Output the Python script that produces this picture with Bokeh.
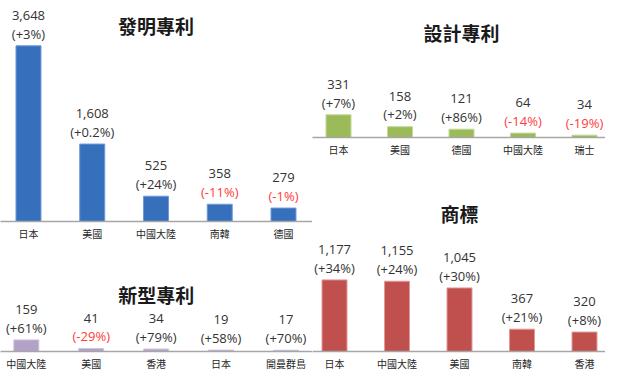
from bokeh.plotting import figure
from bokeh.models import Range1d, FixedTicker, Label, ColumnDataSource
from bokeh.layouts import row, column
from bokeh.embed import file_html
from bokeh.resources import INLINE

# ---- data ----
inv_title = "發明專利"
inv_cats = ["日本", "美國", "中國大陸", "南韓", "德國"]
inv_vals = [3648, 1608, 525, 358, 279]
inv_pcts = ["+3%", "+0.2%", "+24%", "-11%", "-1%"]

des_title = "設計專利"
des_cats = ["日本", "美國", "德國", "中國大陸", "瑞士"]
des_vals = [331, 158, 121, 64, 34]
des_pcts = ["+7%", "+2%", "+86%", "-14%", "-19%"]

uti_title = "新型專利"
uti_cats = ["中國大陸", "美國", "香港", "日本", "開曼群島"]
uti_vals = [159, 41, 34, 19, 17]
uti_pcts = ["+61%", "-29%", "+79%", "+58%", "+70%"]

tm_title = "商標"
tm_cats = ["日本", "中國大陸", "美國", "南韓", "香港"]
tm_vals = [1177, 1155, 1045, 367, 320]
tm_pcts = ["+34%", "+24%", "+30%", "+21%", "+8%"]

TEXT = "#333333"
NEG = "#FF3B3B"
CJK = "Noto Sans CJK TC"
NUM = "Open Sans"


def panel(title, cats, vals, pcts, color, edge, width, height, bottom,
          x0, px_unit, px_per_val, title_dy):
    frame_h = height - bottom
    y_end = frame_h / px_per_val
    n = len(cats)
    p = figure(width=width, height=height, output_backend="svg",
               toolbar_location=None, x_range=Range1d(x0, x0 + width / px_unit),
               y_range=Range1d(0, y_end), y_axis_location=None,
               min_border_left=0, min_border_right=0, min_border_top=0,
               min_border_bottom=bottom)
    p.outline_line_color = None
    p.xgrid.visible = False
    p.ygrid.visible = False
    p.background_fill_color = None
    p.border_fill_color = None
    xs = list(range(n))
    src = ColumnDataSource(dict(
        x=xs, v=vals,
        vt=[f"{v:,}" for v in vals],
        pt=[f"({s})" for s in pcts],
        pc=[NEG if s.startswith("-") else TEXT for s in pcts],
    ))
    p.vbar(x="x", top="v", width=25 / px_unit, bottom=0, source=src,
           fill_color=color, line_color=edge, line_width=1)
    p.text(x="x", y="v", text="vt", source=src, y_offset=-30.5,
           text_align="center", text_baseline="middle",
           text_font_size="13px", text_font={"value": NUM}, text_color=TEXT)
    p.text(x="x", y="v", text="pt", source=src, y_offset=-12.3,
           text_align="center", text_baseline="middle",
           text_font_size="13px", text_font={"value": NUM}, text_color="pc")
    ax = p.xaxis[0]
    ax.ticker = FixedTicker(ticks=xs)
    ax.major_label_overrides = {i: c for i, c in enumerate(cats)}
    ax.major_tick_line_color = None
    ax.minor_tick_line_color = None
    ax.major_tick_out = 0
    ax.major_tick_in = 0
    ax.axis_line_color = "#A6A6A6"
    ax.axis_line_width = 1.5
    ax.major_label_standoff = 4
    ax.major_label_text_font_size = "10px"
    ax.major_label_text_font = CJK
    ax.major_label_text_color = "#262626"
    p.add_layout(Label(x=(n - 1) / 2, y=y_end * (frame_h - title_dy) / frame_h,
                       text=title, text_align="center", text_baseline="middle",
                       text_font=CJK, text_font_size="19px",
                       text_font_style="bold", text_color="#1A1A1A"))
    return p


f1 = panel(inv_title, inv_cats, inv_vals, inv_pcts, "#3670BC", "#6E9AD6",
           312, 249, 28, -0.439, 63.75, 175.7 / 3648, 25)
f3 = panel(uti_title, uti_cats, uti_vals, uti_pcts, "#B3A2C7", "#CFC4DD",
           312, 127, 25, -0.398, 64.9, 11.6 / 159, 45.4)
f2 = panel(des_title, des_cats, des_vals, des_pcts, "#9BBB59", "#C3D89A",
           293, 164, 27, -0.423, 61.5, 22.7 / 331, 31.7)
f4 = panel(tm_title, tm_cats, tm_vals, tm_pcts, "#C0504D", "#E29A98",
           293, 212, 25, -0.352, 62.5, 71.6 / 1177, 48.7)

layout = row(column(f1, f3), column(f2, f4))
open("out.html", "w").write(file_html(layout, INLINE))
